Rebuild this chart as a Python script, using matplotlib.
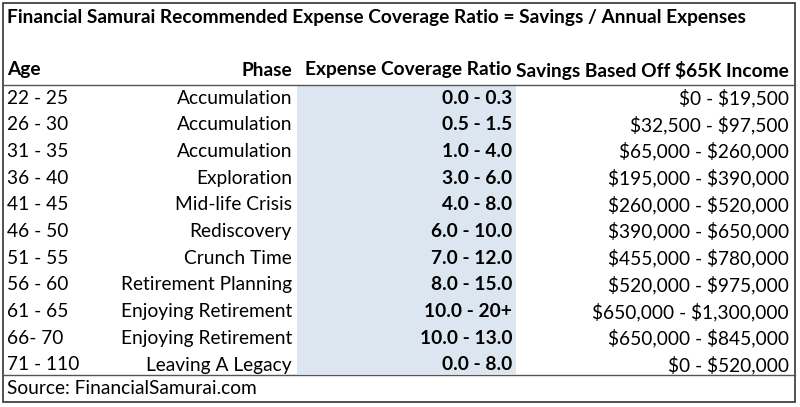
import matplotlib
matplotlib.use("Agg")
import matplotlib.pyplot as plt
from matplotlib.patches import Rectangle

title = "Financial Samurai Recommended Expense Coverage Ratio = Savings / Annual Expenses"
headers = ["Age", "Phase", "Expense Coverage Ratio", "Savings Based Off $65K Income"]
ages = ["22 - 25", "26 - 30", "31 - 35", "36 - 40", "41 - 45", "46 - 50",
        "51 - 55", "56 - 60", "61 - 65", "66- 70", "71 - 110"]
phases = ["Accumulation", "Accumulation", "Accumulation", "Exploration",
          "Mid-life Crisis", "Rediscovery", "Crunch Time", "Retirement Planning",
          "Enjoying Retirement", "Enjoying Retirement", "Leaving A Legacy"]
ratios = ["0.0 - 0.3", "0.5 - 1.5", "1.0 - 4.0", "3.0 - 6.0", "4.0 - 8.0",
          "6.0 - 10.0", "7.0 - 12.0", "8.0 - 15.0", "10.0 - 20+", "10.0 - 13.0",
          "0.0 - 8.0"]
savings = ["$0 - $19,500", "$32,500 - $97,500", "$65,000 - $260,000",
           "$195,000 - $390,000", "$260,000 - $520,000", "$390,000 - $650,000",
           "$455,000 - $780,000", "$520,000 - $975,000", "$650,000 - $1,300,000",
           "$650,000 - $845,000", "$0 - $520,000"]
source = "Source: FinancialSamurai.com"

plt.rcParams['font.family'] = ['Lato', 'DejaVu Sans']
plt.rcParams['text.parse_math'] = False
fs = 13.8

fig = plt.figure(figsize=(8, 4.07), dpi=100)
ax = fig.add_axes([0, 0, 1, 1])
ax.set_xlim(0, 800)
ax.set_ylim(407, 0)
ax.axis('off')

# blue column
ax.add_patch(Rectangle((297, 85), 219, 289, facecolor='#dce6f1', edgecolor='none'))
# borders
ax.add_patch(Rectangle((3, 3), 792, 399, facecolor='none', edgecolor='#333333', lw=1.2))
ax.plot([3, 795], [84.5, 84.5], color='#555555', lw=1)
ax.plot([3, 795], [375, 375], color='#555555', lw=1)

ax.text(7, 17, title, fontsize=fs, fontweight='bold', va='center', ha='left')
hy = 70
ax.text(7, hy, headers[0], fontsize=fs, fontweight='bold', va='center', ha='left')
ax.text(292, hy, headers[1], fontsize=fs, fontweight='bold', va='center', ha='right')
ax.text(512, hy, headers[2], fontsize=fs, fontweight='bold', va='center', ha='right')
ax.text(789, hy, headers[3], fontsize=fs, fontweight='bold', va='center', ha='right')

y0, dy = 98, 26.7
for i in range(len(ages)):
    y = y0 + i * dy
    ax.text(7, y, ages[i], fontsize=fs, va='center', ha='left')
    ax.text(292, y, phases[i], fontsize=fs, va='center', ha='right')
    ax.text(512, y, ratios[i], fontsize=fs, fontweight='bold', va='center', ha='right')
    ax.text(789, y, savings[i], fontsize=fs, va='center', ha='right')

ax.text(7, 389, source, fontsize=fs, va='center', ha='left')

fig.savefig("out.png", dpi=100)
